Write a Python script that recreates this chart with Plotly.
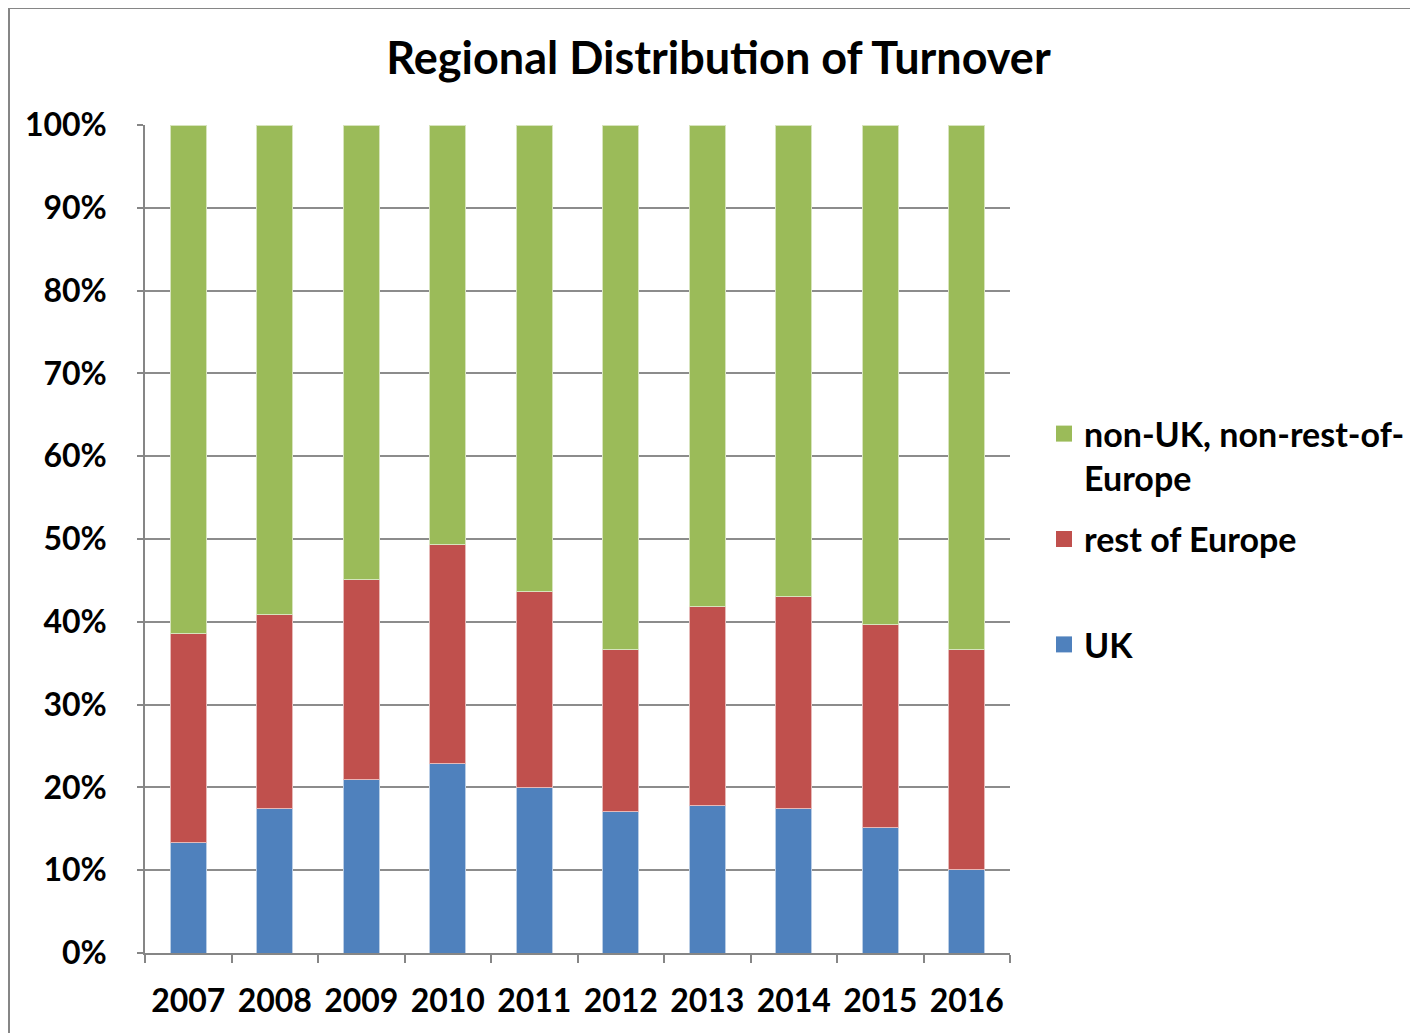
import plotly.graph_objects as go

years = ["2007", "2008", "2009", "2010", "2011", "2012", "2013", "2014", "2015", "2016"]
uk = [13.4, 17.4, 21.0, 22.9, 20.0, 17.1, 17.8, 17.4, 15.1, 10.1]
rest_of_europe_top = [38.6, 40.9, 45.1, 49.3, 43.7, 36.6, 41.8, 43.1, 39.7, 36.7]
rest_of_europe = [round(t - u, 1) for t, u in zip(rest_of_europe_top, uk)]
other = [round(100 - t, 1) for t in rest_of_europe_top]

series_names = ["UK", "rest of Europe", "non-UK, non-rest-of-Europe"]
legend_labels = ["<b>UK</b>", "<b>rest of Europe</b><br> ", "<b>non-UK, non-rest-of-</b><br><b>Europe</b>"]
colors = ["#4F81BD", "#C0504D", "#9BBB59"]
edge = ["#B9CDE5", "#E6B9B8", "#D7E4BD"]

FONT = "Lato"
fig = go.Figure()
for name, vals, c, e in zip(series_names, [uk, rest_of_europe, other], colors, edge):
    fig.add_trace(go.Bar(
        x=years, y=vals, name=name, showlegend=False,
        marker=dict(color=c, line=dict(color=e, width=1)),
    ))
# legend entries (square swatches)
for rank, (name, lab, c) in enumerate(zip(series_names, legend_labels, colors)):
    fig.add_trace(go.Scatter(
        x=[None], y=[None], mode="markers", name=lab, legendrank=3 - rank, legendgroup=name,
        marker=dict(symbol="square", size=18, color=c), hoverinfo="skip",
    ))

O = 8  # page body margin
W, H = 1418, 1033
L, R, T, B = 145 - O, 1010 - O, 125 - O, 953 - O
PW, PH = R - L, B - T
fig.update_layout(
    width=W, height=H,
    barmode="stack", bargap=0.58,
    paper_bgcolor="white", plot_bgcolor="white",
    margin=dict(l=L, r=W - R, t=T, b=H - B, pad=0),
    font=dict(family=FONT, color="black"),
    title=dict(text="<b>Regional Distribution of Turnover</b>", x=((387 + 1050) / 2 - O) / W, xanchor="center",
               y=1 - (58 - O) / H, yanchor="middle", font=dict(size=45, family=FONT)),
    xaxis=dict(showline=True, linecolor="#868686", linewidth=1.5,
               ticks="outside", tickson="boundaries", ticklen=8, tickcolor="#868686", tickwidth=1.5,
               tickfont=dict(size=32, family=FONT), ticklabelstandoff=19, showgrid=False,
               tickvals=years, ticktext=[f"<b>{y}</b>" for y in years]),
    yaxis=dict(range=[0, 100], tickvals=list(range(0, 101, 10)),
               ticktext=[f"<b>{v}%</b>" for v in range(0, 101, 10)],
               showline=True, linecolor="#868686", linewidth=1.5,
               ticks="outside", ticklen=6, tickcolor="#868686", tickwidth=1.5,
               showgrid=True, gridcolor="#8C8C8C", gridwidth=1.5, zeroline=False,
               tickfont=dict(size=32, family=FONT), ticklabelstandoff=24),
    legend=dict(x=(1044 - O - L) / PW, xanchor="left", y=(B - (405 - O)) / PH, yanchor="top",
                traceorder="grouped", tracegroupgap=14, valign="top", itemsizing="trace",
                font=dict(size=34, family=FONT), bgcolor="rgba(0,0,0,0)"),
    shapes=[dict(type="rect", xref="paper", yref="paper",
                 x0=(1 - L) / PW, x1=(W + 20 - L) / PW,
                 y0=-(H + 20 - B) / PH, y1=(B - 0) / PH,
                 line=dict(color="#868686", width=2), fillcolor="rgba(0,0,0,0)", layer="below")],
)
fig.write_html("out.html")
